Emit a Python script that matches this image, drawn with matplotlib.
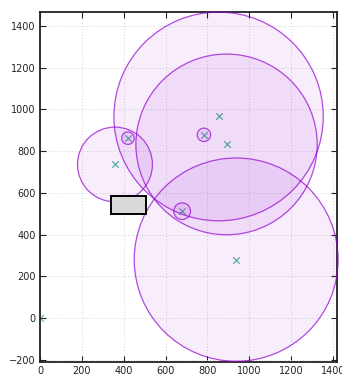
import matplotlib
matplotlib.use("Agg")
import matplotlib.pyplot as plt
from matplotlib.patches import Circle, Rectangle

# data
circle_x = [853, 891, 937, 358, 420, 783, 679]
circle_y = [966, 832, 280, 736, 862, 878, 512]
circle_r = [500, 433, 487, 179, 30, 32, 40]
point_x = [0, 358, 420, 853, 783, 891, 679, 937]
point_y = [0, 736, 862, 966, 878, 832, 512, 280]
rect_x0, rect_x1 = 338, 508
rect_y0, rect_y1 = 497, 586
xticks = [0, 200, 400, 600, 800, 1000, 1200, 1400]
yticks = [-200, 0, 200, 400, 600, 800, 1000, 1200, 1400]

fig = plt.figure(figsize=(3.42, 3.78), dpi=100)
ax = fig.add_axes([0.117, 0.0415, 0.868, 0.9265])
ax.set_xlim(0, 1418)
ax.set_ylim(-212, 1466)

ax.grid(True, color="#d4d4d4", linestyle=(0, (1, 2)), linewidth=0.7)
ax.set_axisbelow(True)

purple = "#9400d3"
ax.scatter(point_x, point_y, marker="x", s=22, color="#009e73", alpha=0.75,
           linewidths=0.8, zorder=2)

for cx, cy, r in zip(circle_x, circle_y, circle_r):
    ax.add_patch(Circle((cx, cy), r, facecolor=purple, alpha=0.07, edgecolor="none", zorder=3, clip_on=False))
    ax.add_patch(Circle((cx, cy), r, facecolor="none", edgecolor=purple, alpha=0.7, linewidth=0.9, zorder=3, clip_on=False))

ax.add_patch(Rectangle((rect_x0, rect_y0), rect_x1 - rect_x0, rect_y1 - rect_y0,
                       facecolor="#d9d9d9", edgecolor="black", linewidth=1.4, zorder=4))

ax.set_xticks(xticks)
ax.set_yticks(yticks)
ax.tick_params(direction="in", top=True, right=True, length=4, width=0.8,
               labelsize=7, colors="#222222", pad=3)
for s in ax.spines.values():
    s.set_linewidth(1.3)
    s.set_color("#222222")

fig.savefig("out.png", dpi=100)
